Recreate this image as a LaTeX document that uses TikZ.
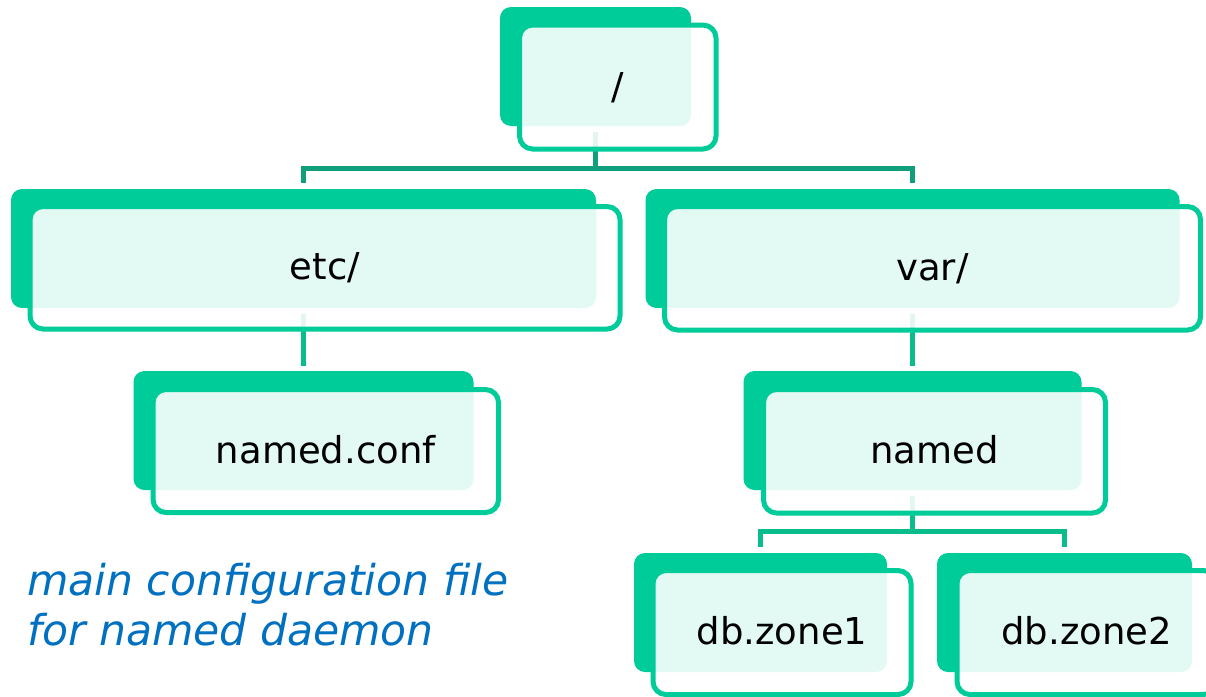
\documentclass[tikz,border=0pt]{standalone}
\usepackage{fontspec}
\setmainfont{DejaVu Sans}
\definecolor{boxgreen}{HTML}{00CC99}
\definecolor{trunkgreen}{HTML}{109F7B}
\definecolor{branchgreen}{HTML}{08BC8C}
\definecolor{noteblue}{HTML}{0070C0}
\tikzset{
  greenbox/.style={rectangle, fill=boxgreen, rounded corners=11pt, inner sep=0pt},
  framebox/.style={rectangle, draw=boxgreen, line width=5pt, fill=white,
    fill opacity=0.89, text opacity=1, rounded corners=13pt, inner sep=0pt,
    text height=24pt, text depth=0pt, font=\fontsize{37}{44}\selectfont},
  trunk/.style={draw=trunkgreen, line width=5pt, line join=miter},
  branch/.style={draw=branchgreen, line width=5pt, line join=miter},
  note/.style={anchor=base west, text=noteblue, inner sep=0pt,
    font=\fontsize{42.5}{50}\selectfont\itshape}
}
\begin{document}
\begin{tikzpicture}[x=1pt, y=-1pt]
  \fill[white] (0,0) rectangle (1206,696);
  \useasboundingbox (0,0) rectangle (1206,696);

  % solid back plates
  \node[greenbox, minimum width=191pt, minimum height=119pt] (rootg)  at (595.5,66.5) {};
  \node[greenbox, minimum width=585pt, minimum height=119pt] (etcg)   at (303.5,248.5) {};
  \node[greenbox, minimum width=534pt, minimum height=119pt] (varg)   at (912.5,248.5) {};
  \node[greenbox, minimum width=340pt, minimum height=119pt] (nconfg) at (303.5,430.5) {};
  \node[greenbox, minimum width=338pt, minimum height=119pt] (namedg) at (912.5,430.5) {};
  \node[greenbox, minimum width=253pt, minimum height=119pt] (zoneAg) at (760.5,612.5) {};
  \node[greenbox, minimum width=255pt, minimum height=119pt] (zoneBg) at (1064.5,612.5) {};

  % tree connectors
  \coordinate (busA) at (0,168);
  \coordinate (busB) at (0,531.5);
  \draw[trunk] ([yshift=-6pt]rootg.south) -- (rootg.south |- busA);
  \draw[trunk] ([yshift=6pt]etcg.north) -- (etcg.north |- busA)
               -- (varg.north |- busA) -- ([yshift=6pt]varg.north);
  \draw[branch] ([yshift=-6pt]etcg.south) -- ([yshift=5pt]nconfg.north);
  \draw[branch] ([yshift=-6pt]varg.south) -- ([yshift=5pt]namedg.north);
  \draw[branch] ([yshift=-6pt]namedg.south) -- (namedg.south |- busB);
  \draw[branch] ([yshift=6pt]zoneAg.north) -- (zoneAg.north |- busB)
                -- (zoneBg.north |- busB) -- ([yshift=6pt]zoneBg.north);

  % framed front panels with the directory names
  \node[framebox, minimum width=196.5pt, minimum height=124pt]   (root)  at (617.75,87)    {/};
  \node[framebox, minimum width=590pt,   minimum height=122.5pt] (etc)   at (325,267.75)   {etc/};
  \node[framebox, minimum width=536pt,   minimum height=123.5pt] (var)   at (932.5,268.25) {var/};
  \node[framebox, minimum width=345.5pt, minimum height=123pt]   (nconf) at (325.75,451)   {named.conf};
  \node[framebox, minimum width=342pt,   minimum height=123.5pt] (named) at (934.5,451.25) {named};
  \node[framebox, minimum width=258pt,   minimum height=124pt]   (zoneA) at (782,632.5)    {db.zone1};
  \node[framebox, minimum width=259.5pt, minimum height=124pt]   (zoneB) at (1086.75,632.5) {db.zone2};

  % annotation
  \node[note] (noteA) at (27,595) {main configuration file};
  \node[note] (noteB) at (27,645) {for named daemon};
\end{tikzpicture}
\end{document}
